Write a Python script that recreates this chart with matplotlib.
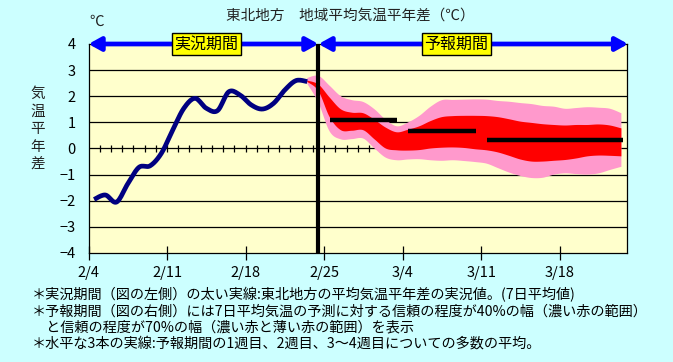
import numpy as np
import matplotlib
matplotlib.use("Agg")
import matplotlib.pyplot as plt
from matplotlib.patches import FancyArrowPatch

plt.rcParams['font.family'] = ['Noto Sans CJK JP', 'DejaVu Sans']

# days counted from 2/4 (tick positions)
tick_days = [0, 7, 14, 21, 28, 35, 42]
tick_labels = ["2/4", "2/11", "2/18", "2/25", "3/4", "3/11", "3/18"]

# observed 7-day mean anomaly (2/4 .. 2/23)
obs_day = np.arange(20) + 0.5
obs_val = [-1.95, -1.78, -2.05, -1.35, -0.72, -0.66, -0.18, 0.70, 1.54, 1.92,
           1.54, 1.45, 2.17, 2.05, 1.67, 1.51, 1.73, 2.24, 2.60, 2.56]

# forecast ranges
fc_day = np.arange(29) + 19.5
p70_hi = [2.70, 2.78, 2.40, 2.00, 1.85, 1.78, 1.50, 1.10, 0.85, 1.00,
          1.25, 1.60, 1.85, 1.86, 1.87, 1.88, 1.87, 1.82, 1.79, 1.74,
          1.70, 1.63, 1.60, 1.52, 1.55, 1.58, 1.56, 1.52, 1.35]
p40_hi = [2.60, 2.45, 1.95, 1.50, 1.37, 1.35, 1.10, 0.80, 0.62, 0.72,
          0.85, 1.05, 1.20, 1.24, 1.25, 1.25, 1.24, 1.20, 1.12, 1.03,
          0.98, 0.93, 0.90, 0.88, 0.90, 0.90, 0.92, 0.88, 0.77]
p40_lo = [2.55, 2.20, 1.20, 0.70, 0.68, 0.70, 0.35, 0.00, -0.07, -0.08,
          -0.06, 0.00, 0.03, 0.04, 0.02, -0.03, -0.07, -0.15, -0.28, -0.42,
          -0.50, -0.50, -0.47, -0.44, -0.38, -0.30, -0.27, -0.28, -0.30]
p70_lo = [2.48, 1.75, 0.65, 0.35, 0.36, 0.38, 0.00, -0.35, -0.45, -0.42,
          -0.41, -0.45, -0.47, -0.45, -0.48, -0.52, -0.58, -0.75, -0.92, -1.05,
          -1.13, -1.12, -1.00, -0.95, -0.98, -1.00, -0.95, -0.82, -0.70]

# weekly ensemble means: (start day, end day, value)
week_start = [21.5, 28.5, 35.5]
week_end = [27.5, 34.5, 47.6]
week_val = [1.09, 0.68, 0.33]

split_day = 20.5

notes = [
    "＊実況期間（図の左側）の太い実線:東北地方の平均気温平年差の実況値。(7日平均値)",
    "＊予報期間（図の右側）には7日平均気温の予測に対する信頼の程度が40%の幅（濃い赤の範囲）",
    "　と信頼の程度が70%の幅（濃い赤と薄い赤の範囲）を表示",
    "＊水平な3本の実線:予報期間の1週目、2週目、3～4週目についての多数の平均。",
]


def smooth(x, y, n=12):
    # Catmull-Rom curve through the points (like Excel's smoothed line)
    P = np.column_stack([np.asarray(x, float), np.asarray(y, float)])
    P = np.vstack([P[0], P, P[-1]])
    t = np.linspace(0, 1, n, endpoint=False)[:, None]
    segs = []
    for i in range(1, len(P) - 2):
        p0, p1, p2, p3 = P[i - 1], P[i], P[i + 1], P[i + 2]
        segs.append(0.5 * (2 * p1 + (-p0 + p2) * t
                           + (2 * p0 - 5 * p1 + 4 * p2 - p3) * t ** 2
                           + (-p0 + 3 * p1 - 3 * p2 + p3) * t ** 3))
    segs.append(P[-2][None])
    a = np.vstack(segs)
    return a[:, 0], a[:, 1]


def band(ax, x, lo, hi, color):
    xh, yh = smooth(x, hi)
    xl, yl = smooth(x, lo)
    ax.fill(np.r_[xh, xl[::-1]], np.r_[yh, yl[::-1]], color=color, lw=0, zorder=3)


fig = plt.figure(figsize=(6.73, 3.62), dpi=100, facecolor="#CCFFFF")
ax = fig.add_axes([88.5 / 673, 109 / 362, 538.5 / 673, 209 / 362])
ax.set_facecolor("#FFFFCC")
ax.set_xlim(0, 48)
ax.set_ylim(-4, 4)

for v in [-3, -2, -1, 0, 1, 2, 3]:
    ax.axhline(v, color="black", lw=0.9, zorder=1)
ax.vlines(np.arange(1, 48), -0.15, 0.15, color="black", lw=0.9, zorder=1)

band(ax, fc_day, p70_lo, p70_hi, "#FF99CC")
band(ax, fc_day, p40_lo, p40_hi, "#FF0000")

ox, oy = smooth(obs_day, obs_val)
ax.plot(ox, oy, color="#000080", lw=3.4, solid_capstyle="butt", zorder=4)

ax.hlines(week_val, week_start, week_end, color="black", lw=3.2, zorder=5)
ax.axvline(split_day, color="black", lw=3.0, zorder=6)

for s in ax.spines.values():
    s.set_color("black")
    s.set_linewidth(0.9)

ax.set_xticks(tick_days)
ax.set_xticklabels(tick_labels, fontsize=10.5)
ax.tick_params(axis="x", direction="inout", length=10, width=0.9, pad=4)
ax.set_yticks(range(-4, 5))
ax.set_yticklabels([str(v).replace("-", "−") for v in range(-4, 5)], fontsize=10.5)
ax.tick_params(axis="y", length=0, pad=9)

# period arrows along the top
for x0, x1 in [(0, split_day), (split_day, 48.1)]:
    arr = FancyArrowPatch((x0, 4), (x1, 4), arrowstyle="<|-|>,head_length=0.45,head_width=0.25",
                          mutation_scale=16, color="#0000FF", lw=3.4,
                          shrinkA=0, shrinkB=0, clip_on=False, zorder=7)
    ax.add_patch(arr)

box = dict(boxstyle="square,pad=0.14", facecolor="#FFFF00", edgecolor="black", lw=1.0)
ax.text(10.5, 4, "実況期間", fontsize=11.5, ha="center", va="center", bbox=box, zorder=8)
ax.text(32.8, 4, "予報期間", fontsize=11.5, ha="center", va="center", bbox=box, zorder=8)

fig.text(350 / 673, 1 - 16 / 362, "東北地方　地域平均気温平年差（℃）", fontsize=10.5,
         ha="center", va="center", color="#222222")
fig.text(97 / 673, 1 - 22 / 362, "℃", fontsize=10.5, ha="center", va="center", color="#222222")
fig.text(38 / 673, 1 - 129 / 362, "気\n温\n平\n年\n差", fontsize=10.5, ha="center",
         va="center", linespacing=1.32, color="#222222")

for i, line in enumerate(notes):
    fig.text(32 / 673, 1 - (295 + i * 16.3) / 362, line, fontsize=10.2,
             ha="left", va="center", color="black")

fig.savefig("out.png", dpi=100, facecolor=fig.get_facecolor())
